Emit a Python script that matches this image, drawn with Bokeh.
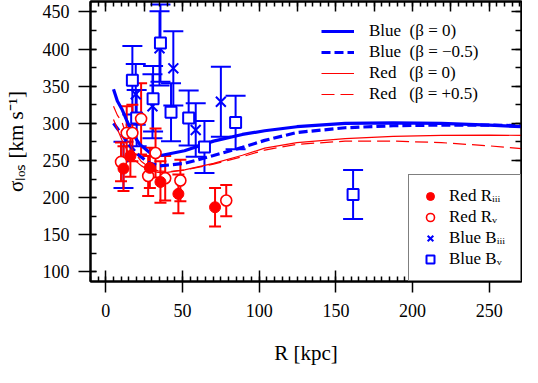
from bokeh.plotting import figure
from bokeh.models import (ColumnDataSource, Whisker, TeeHead, Legend, LegendItem,
                          LinearAxis, FixedTicker, CustomJSTickFormatter, Range1d)
from bokeh.embed import file_html
from bokeh.resources import INLINE

# ---------------- data ----------------
red3_r = [11.5, 16.0, 28.7, 35.6, 47.3, 71.2]
red3_s = [239, 256, 240, 221, 205, 187]
red3_e = [30, 28, 27, 28, 26, 26]

redv_r = [9.9, 13.6, 17.3, 23.0, 27.6, 32.4, 38.7, 48.6, 78.5]
redv_s = [248, 287, 287, 306, 229, 260, 226, 223, 196]
redv_e = [26, 36, 38, 48, 27, 33, 30, 28, 21]

blue3_r = [11.5, 19.5, 30.4, 35.0, 44.0, 58.6, 75.0]
blue3_s = [244, 339, 323, 401, 374, 291, 329]
blue3_e = [31, 41, 43, 50, 50, 36, 47]

bluev_r = [17.3, 20.1, 30.8, 35.6, 42.5, 54.0, 64.3, 84.6, 161.2]
bluev_s = [358, 307, 333, 408, 315, 307, 268, 301, 204]
bluev_e = [46, 38, 44, 52, 39, 37, 35, 36, 33]

blue_b0_r = [5, 7.5, 10.5, 13.6, 17.8, 22, 28.3, 36.7, 51.3, 70.2, 89, 103.6, 124.6, 156, 187.4, 218.8, 250, 271]
blue_b0_s = [346, 330, 319, 304, 285, 272, 261, 257, 263, 276, 285, 290, 295.4, 299.8, 300.6, 299.8, 297.6, 295.4]

blue_bm_r = [5, 10.5, 15.7, 22, 28, 34.5, 51.3, 70.2, 89, 103.6, 124.6, 156, 187.4, 218.8, 250, 271]
blue_bm_s = [300, 284.6, 269.6, 256, 247, 242.5, 246, 256.7, 267.6, 277, 287.6, 294, 296.7, 297.6, 297.6, 296.7]

red_b0_r = [5, 8, 11, 14.6, 18, 23, 28, 34, 40, 51.3, 70.2, 89, 103.6, 124.6, 156, 187.4, 218.8, 250, 271]
red_b0_s = [305, 290, 275, 261, 252, 243, 237, 234, 234, 237.4, 246, 257, 266.6, 274, 279.5, 282.5, 283.8, 284, 283.8]

red_bp_r = [5, 7.5, 10.5, 14, 18, 23, 28, 34, 40, 51.3, 70.2, 89, 103.6, 124.6, 156, 187.4, 218.8, 250, 271]
red_bp_s = [323, 311, 302, 280, 262, 249, 241, 236, 235, 237, 245, 255, 264, 271.7, 276, 276, 274, 269.6, 266]

x_major = [0, 50, 100, 150, 200, 250]
x_minor = list(range(-10, 275, 5))
x_top_major = list(range(0, 275, 25))
y_major = [100, 150, 200, 250, 300, 350, 400, 450]
y_minor = list(range(75, 475, 25))

x_title = "R [kpc]"
y_title = "\u03c3\u2097\u2092\u209b [km s\u207b\u00b9]"
line_labels = ["Blue\u00a0\u00a0(\u03b2 = 0)", "Blue\u00a0\u00a0(\u03b2 = \u22120.5)",
               "Red\u00a0\u00a0\u00a0(\u03b2 = 0)", "Red\u00a0\u00a0\u00a0(\u03b2 = +0.5)"]
point_labels = ["Red R\u1d62\u1d62\u1d62", "Red R\u1d65", "Blue B\u1d62\u1d62\u1d62", "Blue B\u1d65"]

# ---------------- style ----------------
FONT = "'Liberation Serif', serif"
BLUE = "#0000ff"
RED = "#ff0000"

W, H = 522, 367
BL, BR, BT, BB = 88, 1, 1, 84

p = figure(width=W, height=H, x_range=Range1d(-10, 271), y_range=Range1d(87, 464),
           output_backend="svg", toolbar_location=None,
           x_axis_type=None, y_axis_type=None,
           min_border_left=BL, min_border_right=BR, min_border_top=BT, min_border_bottom=BB)
p.outline_line_color = "black"
p.outline_line_width = 2
p.background_fill_color = "white"
p.border_fill_color = "white"


def axis(major, minor, tin, tout, mtin, labels):
    ax = LinearAxis(ticker=FixedTicker(ticks=major, minor_ticks=minor))
    ax.axis_line_color = "black"
    ax.axis_line_width = 2
    ax.major_tick_line_color = "black"
    ax.minor_tick_line_color = "black"
    ax.major_tick_line_width = 1.5
    ax.minor_tick_line_width = 1.5
    ax.major_tick_in = tin
    ax.major_tick_out = tout
    ax.minor_tick_in = mtin
    ax.minor_tick_out = 0
    if labels:
        ax.major_label_text_font = FONT
        ax.major_label_text_font_size = "18px"
        ax.major_label_text_color = "black"
        ax.axis_label_text_font = FONT
        ax.axis_label_text_font_size = "21px"
        ax.axis_label_text_font_style = "normal"
        ax.axis_label_text_color = "black"
    else:
        ax.formatter = CustomJSTickFormatter(code="return ''")
        ax.major_label_text_font_size = "0px"
        ax.major_label_standoff = 0
    return ax


xb = axis(x_major, x_minor, 11, 11, 5, True)
xb.major_label_standoff = 11
xb.axis_label = x_title
xb.axis_label_standoff = 21
p.add_layout(xb, "below")

yl = axis(y_major, y_minor, 6, 12, 6, True)
yl.major_label_standoff = 9
yl.axis_label = y_title
yl.axis_label_standoff = 12
p.add_layout(yl, "left")

p.add_layout(axis(x_top_major, x_minor, 10, 0, 5, False), "above")
p.add_layout(axis(y_major, y_minor, 10, 0, 6, False), "right")

# ---------------- model curves ----------------
l1 = p.line(blue_b0_r, blue_b0_s, line_color=BLUE, line_width=3.2)
l2 = p.line(blue_bm_r, blue_bm_s, line_color=BLUE, line_width=3.2, line_dash="9 4")
l3 = p.line(red_b0_r, red_b0_s, line_color=RED, line_width=1.2)
l4 = p.line(red_bp_r, red_bp_s, line_color=RED, line_width=1.2, line_dash="13 6")


# ---------------- data points ----------------
def src(r, s, e):
    return ColumnDataSource(dict(x=r, y=s,
                                 lo=[a - b for a, b in zip(s, e)],
                                 hi=[a + b for a, b in zip(s, e)]))


def errbars(source, color, cap):
    w = Whisker(source=source, base="x", lower="lo", upper="hi", dimension="height",
                line_color=color, line_width=2,
                upper_head=TeeHead(size=cap, line_color=color, line_width=2),
                lower_head=TeeHead(size=cap, line_color=color, line_width=2))
    p.add_layout(w)


s_bv = src(bluev_r, bluev_s, bluev_e)
s_b3 = src(blue3_r, blue3_s, blue3_e)
s_rv = src(redv_r, redv_s, redv_e)
s_r3 = src(red3_r, red3_s, red3_e)
errbars(s_bv, BLUE, 20)
errbars(s_b3, BLUE, 20)
errbars(s_rv, RED, 12)
errbars(s_r3, RED, 12)

m_b3 = p.scatter("x", "y", source=s_b3, marker="x", size=14, line_color=BLUE, line_width=2)
m_bv = p.scatter("x", "y", source=s_bv, marker="square", size=11, line_color=BLUE,
                 line_width=2, fill_color="white")
m_rv = p.scatter("x", "y", source=s_rv, marker="circle", size=11, line_color=RED,
                 line_width=1.6, fill_color="white")
m_r3 = p.scatter("x", "y", source=s_r3, marker="circle", size=11, line_color=RED,
                 fill_color=RED)

# ---------------- legends ----------------
leg1 = Legend(items=[LegendItem(label=t, renderers=[r]) for t, r in zip(line_labels, [l1, l2, l3, l4])],
              location=(231, 177), margin=0, padding=0, spacing=1,
              label_height=20, glyph_height=20, glyph_width=33, label_standoff=15,
              border_line_color=None, background_fill_alpha=0,
              label_text_font=FONT, label_text_font_size="17px", label_text_color="black")
p.add_layout(leg1, "center")

leg2 = Legend(items=[LegendItem(label=t, renderers=[r]) for t, r in zip(point_labels, [m_r3, m_rv, m_b3, m_bv])],
              location="bottom_right", margin=0, padding=11, spacing=1,
              label_height=20, glyph_height=20, glyph_width=20, label_standoff=9, label_width=60,
              border_line_color="black", border_line_width=1.5,
              background_fill_color="white", background_fill_alpha=1,
              label_text_font=FONT, label_text_font_size="17px", label_text_color="black")
p.add_layout(leg2, "center")

open("out.html", "w").write(file_html(p, INLINE))
